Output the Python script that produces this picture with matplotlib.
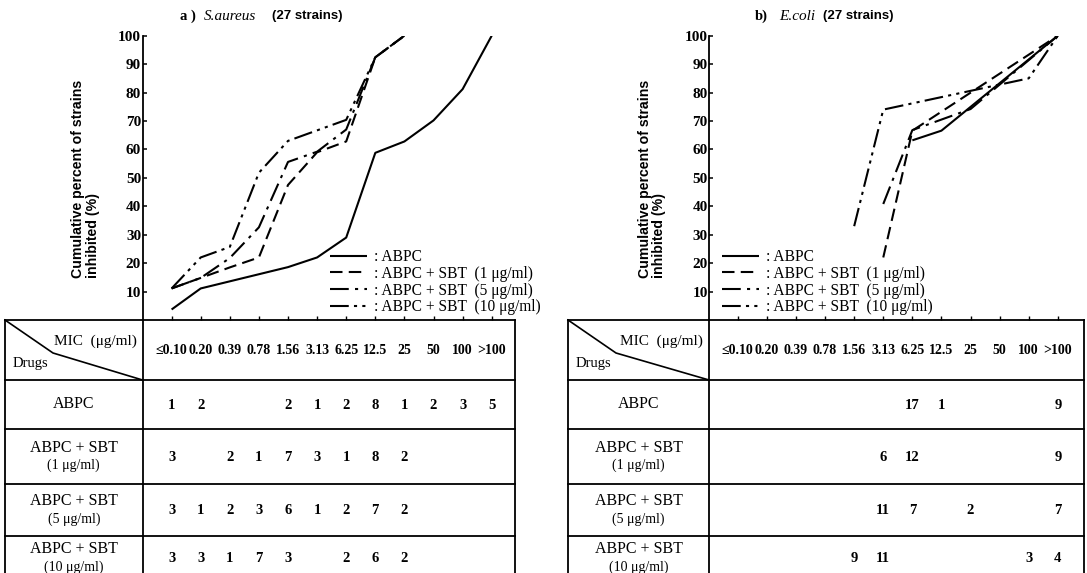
import matplotlib
matplotlib.use('Agg')
import matplotlib.pyplot as plt
import matplotlib.transforms as mtrans
import numpy as np

plt.rcParams['font.family'] = ['Liberation Serif', 'DejaVu Serif']

# ---------------- data ----------------
mic_labels = ['≤0.10', '0.20', '0.39', '0.78', '1.56', '3.13', '6.25', '12.5', '25', '50', '100', '>100']
drug_names = ['ABPC', 'ABPC + SBT', 'ABPC + SBT', 'ABPC + SBT']
drug_conc = ['', '(1 μg/ml)', '(5 μg/ml)', '(10 μg/ml)']
legend_labels = [': ABPC', ': ABPC + SBT  (1 μg/ml)', ': ABPC + SBT  (5 μg/ml)', ': ABPC + SBT  (10 μg/ml)']

# number of strains per MIC (None = blank cell)
sa_counts = [
    [1, 2, None, None, 2, 1, 2, 8, 1, 2, 3, 5],
    [3, None, 2, 1, 7, 3, 1, 8, 2, None, None, None],
    [3, 1, 2, 3, 6, 1, 2, 7, 2, None, None, None],
    [3, 3, 1, 7, 3, None, 2, 6, 2, None, None, None],
]
ec_counts = [
    [None, None, None, None, None, None, 17, 1, None, None, None, 9],
    [None, None, None, None, None, 6, 12, None, None, None, None, 9],
    [None, None, None, None, None, 11, 7, None, 2, None, None, 7],
    [None, None, None, None, 9, 11, None, None, None, None, 3, 4],
]

# cumulative % curves (MIC index, percent)
sa_abpc_x = [0, 1, 4, 5, 6, 7, 8, 9, 10, 11]
sa_abpc_y = [3.7, 11.1, 18.6, 22.0, 29.0, 58.8, 62.8, 70.2, 81.2, 100]
sa_sbt1_x = [0, 2, 3, 4, 5, 6, 7, 8]
sa_sbt1_y = [11.1, 18.5, 22.0, 47.5, 59.0, 62.8, 92.4, 100]
sa_sbt5_x = [0, 1, 2, 3, 4, 5, 6, 7, 8]
sa_sbt5_y = [11.1, 14.8, 21.8, 32.6, 55.6, 59.2, 67.0, 92.4, 100]
sa_sbt10_x = [0, 1, 2, 3, 4, 6, 7, 8]
sa_sbt10_y = [11.1, 22.0, 25.7, 51.8, 63.0, 70.4, 92.4, 100]

ec_abpc_x = [6, 7, 11]
ec_abpc_y = [63.2, 66.6, 100]
ec_sbt1_x = [5, 6, 11]
ec_sbt1_y = [22.0, 66.6, 100]
ec_sbt5_x = [5, 6, 8, 11]
ec_sbt5_y = [40.8, 66.8, 74.2, 100]
ec_sbt10_x = [4, 5, 10, 11]
ec_sbt10_y = [33.0, 74.0, 85.0, 100]

W, H = 1087, 573
fig = plt.figure(figsize=(W / 100, H / 100), dpi=100)
fig.patch.set_facecolor('white')

over = fig.add_axes([0, 0, 1, 1])
over.set_xlim(0, W)
over.set_ylim(H, 0)
over.axis('off')

styles = ['-', (0, (6, 3)), (0, (9, 3, 1.5, 3)), (0, (9, 2.5, 1.5, 2.5, 1.5, 2.5))]
tick_font = dict(family=['Liberation Serif', 'DejaVu Serif'], weight='bold', size=11)
sans_bold = dict(family=['Liberation Sans', 'DejaVu Sans'], weight='bold')

def px_box(x0, x1, ytop, ybot):
    return [x0 / W, 1 - ybot / H, (x1 - x0) / W, (ybot - ytop) / H]

def make_panel(x0, xd, x1, xlim, curves, counts, tag, species, legend_x):
    ax = fig.add_axes(px_box(xd, x1, 35.7, 320))
    ax.set_xlim(*xlim)
    ax.set_ylim(0, 100)
    ax.patch.set_visible(False)
    for s in ['top', 'right', 'bottom']:
        ax.spines[s].set_visible(False)
    ax.spines['left'].set_linewidth(1.3)
    ax.set_yticks(range(10, 101, 10))
    ax.set_yticklabels([str(v) for v in range(10, 101, 10)], fontdict=tick_font)
    ax.set_xticks(range(len(mic_labels)))
    ax.set_xticklabels([])
    ax.tick_params(axis='y', direction='in', length=3, width=1.1, pad=1)
    ax.tick_params(axis='x', direction='in', length=3, width=1.0)

    handles = []
    for (xs, ys), ls in zip(curves, styles):
        h, = ax.plot(xs, ys, color='black', lw=1.5, linestyle=ls, solid_capstyle='butt')
        handles.append(h)
    ax.legend(handles, legend_labels, loc='upper left',
              bbox_to_anchor=(legend_x / W, 1 - 249 / H), bbox_transform=fig.transFigure,
              frameon=False, fontsize=11.2, handlelength=2.4, handletextpad=0.45,
              labelspacing=0.05, borderpad=0, borderaxespad=0)

    # y label
    fig.text((xd - 57) / W, 1 - 278 / H, 'Cumulative percent of strains\ninhibited (%)',
             rotation=90, ha='center', va='bottom', multialignment='left',
             fontsize=10.2, linespacing=1.05, **sans_bold)

    # table
    rows = [320, 380, 429, 484, 536, 600]
    lw = 1.3
    for y in rows[:-1]:
        over.plot([x0, x1], [y, y], color='black', lw=lw)
    for x in [x0, xd, x1]:
        over.plot([x, x], [rows[0], rows[-1]], color='black', lw=lw)
    over.plot([x0, x0 + 48, xd], [rows[0], rows[0] + 33, rows[1]], color='black', lw=1.2)
    over.text(xd - 6, 341, 'MIC  (μg/ml)', ha='right', va='center', fontsize=11)
    over.text(x0 + 8, 364, 'Drugs', ha='left', va='center', fontsize=10.5)

    tr = mtrans.blended_transform_factory(ax.transData, over.transData)
    for k, lab in enumerate(mic_labels):
        over.text(k, 350, lab, transform=tr, ha='center', va='center',
                  fontsize=10, weight='bold', family=['Liberation Serif', 'DejaVu Serif'])
    xc = (x0 + xd) / 2
    for r, (name, conc) in enumerate(zip(drug_names, drug_conc)):
        yt = rows[r + 1]
        yb = rows[r + 2] if r < 3 else 580
        ym = (yt + yb) / 2
        if conc:
            over.text(xc, ym - 9, name, ha='center', va='center', fontsize=11.5)
            over.text(xc, ym + 9, conc, ha='center', va='center', fontsize=10)
        else:
            over.text(xc, ym, name, ha='center', va='center', fontsize=11.5)
        for k, v in enumerate(counts[r]):
            if v is not None:
                over.text(k, ym + 1, str(v), transform=tr, ha='center', va='center',
                          fontsize=10.5, weight='bold')

    # title
    over.text(tag[0], 16, tag[1], ha='left', va='center', fontsize=10.5, weight='bold')
    over.text(tag[0] + 24, 16, species, ha='left', va='center', fontsize=11, style='italic')
    over.text(tag[2], 16, '(27 strains)', ha='left', va='center', fontsize=9.5, **sans_bold)
    return ax

make_panel(5, 142.5, 515, (-1.0, 11.8),
           [(sa_abpc_x, sa_abpc_y), (sa_sbt1_x, sa_sbt1_y), (sa_sbt5_x, sa_sbt5_y), (sa_sbt10_x, sa_sbt10_y)],
           sa_counts, (180, 'a )', 272), 'S.aureus', 330)
make_panel(568, 709, 1084, (-0.99, 11.9),
           [(ec_abpc_x, ec_abpc_y), (ec_sbt1_x, ec_sbt1_y), (ec_sbt5_x, ec_sbt5_y), (ec_sbt10_x, ec_sbt10_y)],
           ec_counts, (755, 'b)', 823), 'E.coli', 722)

fig.savefig('out.png', dpi=100)
